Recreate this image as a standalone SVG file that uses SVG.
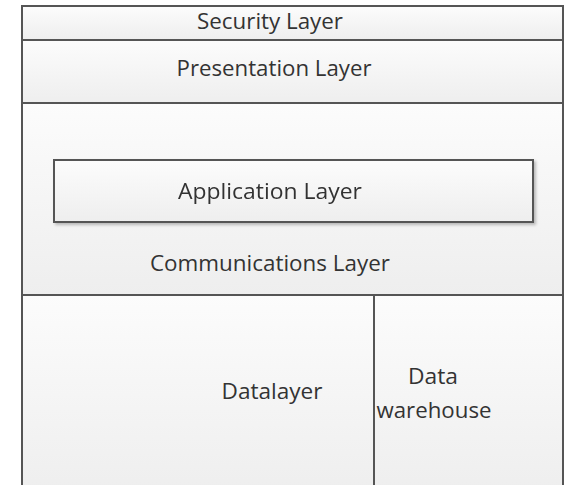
<svg xmlns="http://www.w3.org/2000/svg" width="565" height="485" viewBox="0 0 565 485">
  <defs>
    <linearGradient id="panel" x1="0" y1="0" x2="0" y2="1">
      <stop offset="0" stop-color="#fcfcfc"/>
      <stop offset="1" stop-color="#eeeeee"/>
    </linearGradient>
    <filter id="shadow" x="-5%" y="-10%" width="115%" height="140%">
      <feGaussianBlur in="SourceAlpha" stdDeviation="1.5"/>
      <feOffset dx="2" dy="2" result="b"/>
      <feComponentTransfer><feFuncA type="linear" slope="0.25"/></feComponentTransfer>
      <feMerge><feMergeNode/><feMergeNode in="SourceGraphic"/></feMerge>
    </filter>
  </defs>
  <style>
    .box { fill: url(#panel); stroke: #555555; stroke-width: 2; }
    .label { font-family: "Open Sans", "Liberation Sans", sans-serif; font-size: 21px; fill: #333333; text-anchor: middle; }
  </style>
  <rect width="565" height="485" fill="#ffffff"/>

  <g id="security-layer">
    <rect class="box" x="22" y="6" width="541" height="34"/>
    <text class="label" x="270" y="29" textLength="146" lengthAdjust="spacingAndGlyphs">Security Layer</text>
  </g>

  <g id="presentation-layer">
    <rect class="box" x="22" y="40" width="541" height="63"/>
    <text class="label" x="274" y="76" textLength="195" lengthAdjust="spacingAndGlyphs">Presentation Layer</text>
  </g>

  <g id="communications-layer">
    <rect class="box" x="22" y="103" width="541" height="192"/>
    <text class="label" x="270" y="271" textLength="240" lengthAdjust="spacingAndGlyphs">Communications Layer</text>
  </g>

  <g id="application-layer" filter="url(#shadow)">
    <rect class="box" x="54" y="160" width="479" height="62"/>
    <text class="label" x="270" y="199" textLength="184" lengthAdjust="spacingAndGlyphs">Application Layer</text>
  </g>

  <g id="datalayer">
    <rect class="box" x="22" y="295" width="352" height="200"/>
    <text class="label" x="272" y="399" textLength="101" lengthAdjust="spacingAndGlyphs">Datalayer</text>
  </g>

  <g id="data-warehouse">
    <rect class="box" x="374" y="295" width="189" height="200"/>
    <text class="label" x="433" y="384" textLength="50" lengthAdjust="spacingAndGlyphs">Data</text>
    <text class="label" x="434" y="418" textLength="115" lengthAdjust="spacingAndGlyphs">warehouse</text>
  </g>

  <g id="connectors"/>
</svg>
